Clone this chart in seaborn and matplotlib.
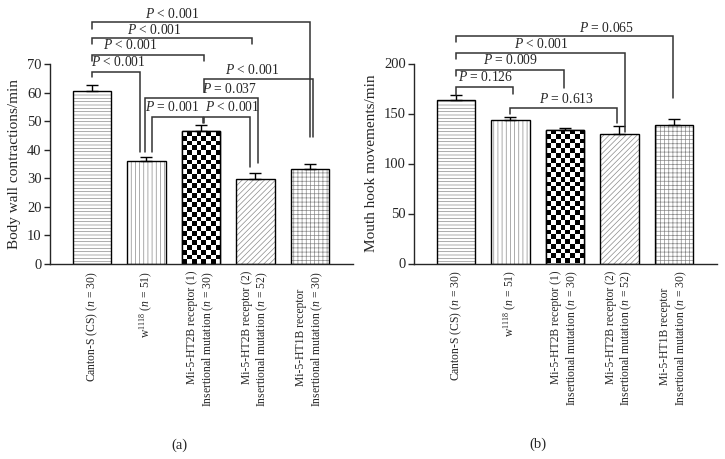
import numpy as np
import pandas as pd
import matplotlib
matplotlib.use("Agg")
import matplotlib.pyplot as plt
import seaborn as sns
from matplotlib.patches import Rectangle

# ---------------- data ----------------
categories = [
    "Canton-S (CS) ($n$ = 30)",
    "w$^{1118}$ ($n$ = 51)",
    "Mi-5-HT2B receptor (1)\nInsertional mutation ($n$ = 30)",
    "Mi-5-HT2B receptor (2)\nInsertional mutation ($n$ = 52)",
    "Mi-5-HT1B receptor      \nInsertional mutation ($n$ = 30)",
]
body_wall_mean = [60.7, 36.0, 46.5, 29.9, 33.3]
body_wall_sem = [2.1, 1.6, 2.0, 1.8, 1.7]
mouth_hook_mean = [163.5, 143.3, 133.3, 130.0, 139.0]
mouth_hook_sem = [4.7, 3.3, 2.3, 7.6, 5.3]

# significance annotations: (x1, x2, y, left leg end, right leg end, text, text x, text y)
body_wall_brackets = [
    (0.0, 4.0, 84.6, 82.3, 44.3, "$P$ < 0.001", 1.47, 87.4),
    (0.0, 2.94, 79.1, 77.1, 77.1, "$P$ < 0.001", 1.14, 81.9),
    (0.0, 2.06, 73.1, 71.1, 71.1, "$P$ < 0.001", 0.70, 76.7),
    (0.0, 0.88, 67.3, 65.6, 39.1, "$P$ < 0.001", 0.48, 70.6),
    (2.05, 4.06, 64.6, 60.1, 44.3, "$P$ < 0.001", 2.94, 68.0),
    (0.97, 3.05, 58.0, 39.1, 35.3, "$P$ = 0.037", 2.53, 61.4),
    (1.10, 2.03, 51.4, 39.1, 49.2, "$P$ = 0.001", 1.47, 54.8),
    (2.06, 2.90, 51.4, 49.2, 33.9, "$P$ < 0.001", 2.57, 54.8),
]
mouth_hook_brackets = [
    (0.0, 3.99, 227.9, 222.0, 165.5, "$P$ = 0.065", 2.77, 236.0),
    (0.0, 3.10, 210.5, 205.0, 131.5, "$P$ < 0.001", 1.56, 220.0),
    (0.0, 1.98, 194.0, 188.0, 175.4, "$P$ = 0.009", 1.00, 203.0),
    (0.0, 1.04, 176.4, 168.4, 169.4, "$P$ = 0.126", 0.55, 186.4),
    (1.0, 2.95, 155.2, 149.6, 140.6, "$P$ = 0.613", 2.03, 164.5),
]
hatches = ["-----", "||||", None, "//////", "++++"]

# ---------------- style ----------------
sns.set_style("ticks")
plt.rcParams["font.family"] = ["Liberation Serif", "DejaVu Serif"]
plt.rcParams["mathtext.fontset"] = "custom"
plt.rcParams["mathtext.rm"] = "Liberation Serif"
plt.rcParams["mathtext.it"] = "Liberation Serif:italic"
plt.rcParams["hatch.linewidth"] = 0.5

W, H = 725, 459
fig = plt.figure(figsize=(W / 100, H / 100), dpi=100)
axL = fig.add_axes([50 / W, 1 - 264 / H, 303 / W, 200 / H])
axR = fig.add_axes([414 / W, 1 - 263.5 / H, 303 / W, 200 / H])


def panel(ax, means, sems, ymax, step, ylabel, brackets):
    df = pd.DataFrame({"group": categories, "value": means})
    sns.barplot(data=df, x="group", y="value", ax=ax, color="white",
                edgecolor="black", linewidth=1.0, width=0.7, errorbar=None,
                saturation=1)
    ax.set_xlim(-0.77, 4.79)
    ax.set_ylim(0, ymax)
    ax.set_yticks(np.arange(0, ymax + 1, step))
    ax.set_xlabel("")
    ax.set_ylabel(ylabel, fontsize=11)
    ax.tick_params(axis="y", labelsize=10.5, length=4, width=1, pad=2)
    ax.tick_params(axis="x", length=0, labelsize=8.4, pad=5)
    for lab in ax.get_xticklabels():
        lab.set_rotation(90)
        lab.set_multialignment("right")
    for s in ["top", "right"]:
        ax.spines[s].set_visible(False)
    for s in ["left", "bottom"]:
        ax.spines[s].set_linewidth(1.0)

    ppu = ax.transData.transform((0, 1))[1] - ax.transData.transform((0, 0))[1]
    ppx = ax.transData.transform((1, 0))[0] - ax.transData.transform((0, 0))[0]
    bars = list(ax.patches)[:5]
    for patch, h in zip(bars, hatches):
        x0, w, hgt = patch.get_x(), patch.get_width(), patch.get_height()
        if h is None:
            ncol = 8
            cell = w * ppx / ncol
            nrow = max(1, int(round(hgt * ppu / cell)))
            board = (np.add.outer(np.arange(nrow), np.arange(ncol)) % 2).astype(float)
            im = ax.imshow(board, cmap="gray", extent=(x0, x0 + w, 0, hgt),
                           origin="lower", interpolation="nearest",
                           aspect="auto", zorder=patch.get_zorder() + 0.1)
            im.set_clip_path(patch)
        else:
            patch.set_hatch(h)
            patch.set_edgecolor("#8a8a8a")
            patch.set_linewidth(0)
        ax.add_patch(Rectangle((x0, 0), w, hgt, fill=False, ec="black",
                               lw=1.0, zorder=patch.get_zorder() + 0.2))
    ax.set_aspect("auto")
    ax.set_xlim(-0.77, 4.79)
    ax.set_ylim(0, ymax)

    ax.errorbar(x=np.arange(len(means)), y=means,
                yerr=[np.zeros(len(sems)), sems], fmt="none", ecolor="black",
                elinewidth=1.0, capsize=4, capthick=1.0, zorder=5)

    for x1, x2, y, yl, yr, txt, tx, ty in brackets:
        ax.plot([x1, x1, x2, x2], [yl, y, y, yr], color="#333333", lw=1.1,
                clip_on=False, zorder=6, solid_joinstyle="miter")
        ax.text(tx, ty, txt, ha="center", va="center", fontsize=9.8,
                clip_on=False, zorder=7)


panel(axL, body_wall_mean, body_wall_sem, 70, 10,
      "Body wall contractions/min", body_wall_brackets)
panel(axR, mouth_hook_mean, mouth_hook_sem, 200, 50,
      "Mouth hook movements/min", mouth_hook_brackets)

fig.text(179 / W, 1 - 445 / H, "(a)", ha="center", va="center", fontsize=10.5)
fig.text(538 / W, 1 - 444 / H, "(b)", ha="center", va="center", fontsize=10.5)

fig.savefig("out.png", dpi=100)
